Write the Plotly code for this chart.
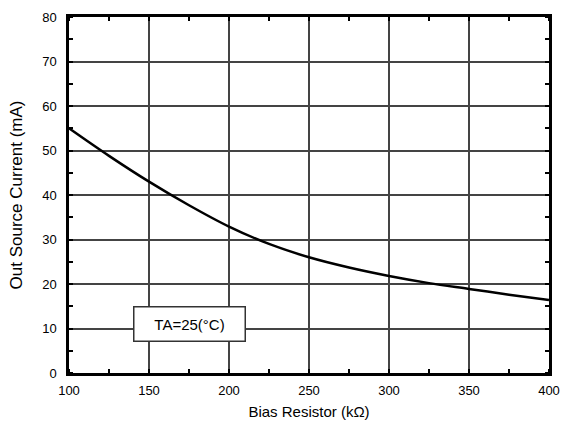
import plotly.graph_objects as go

resistor_kohm = [100, 125, 150, 175, 200, 225, 250, 275, 300, 325, 350, 375, 400]
current_ma = [55.0, 48.8, 43.0, 37.7, 32.9, 29.0, 26.0, 23.7, 21.8, 20.2, 18.9, 17.6, 16.4]

x_ticks = [100, 150, 200, 250, 300, 350, 400]
y_ticks = [0, 10, 20, 30, 40, 50, 60, 70, 80]

fig = go.Figure()
fig.add_trace(go.Scatter(
    x=resistor_kohm, y=current_ma, mode="lines",
    line=dict(color="black", width=2.5, shape="spline", smoothing=1.0),
    showlegend=False, hoverinfo="skip",
))

font = "Liberation Sans, Arial, sans-serif"
axis_common = dict(
    showline=True, linecolor="black", linewidth=2.5, mirror="all",
    showgrid=True, gridcolor="#444444", gridwidth=1.5,
    ticks="", zeroline=False, automargin=False,
    tickfont=dict(family=font, size=13, color="black"),
)

fig.update_xaxes(
    range=[100, 400], tickvals=x_ticks, ticktext=[str(v) for v in x_ticks],
    title=dict(text="Bias Resistor (kΩ)", font=dict(family=font, size=15, color="black"), standoff=10),
    ticklabelstandoff=4,
    minor=dict(ticks="inside", ticklen=4, tickcolor="black", tickwidth=1.5, dtick=25, tick0=100, showgrid=False),
    **axis_common,
)
fig.update_yaxes(
    range=[0, 80], tickvals=y_ticks, ticktext=[str(v) for v in y_ticks],
    title=dict(text="Out Source Current (mA)", font=dict(family=font, size=17, color="black"), standoff=16),
    ticklabelstandoff=7,
    minor=dict(ticks="inside", ticklen=4, tickcolor="black", tickwidth=1.5, dtick=5, tick0=0, showgrid=False),
    **axis_common,
)

fig.add_annotation(
    x=175, y=11, xref="x", yref="y", text="TA=25(°C)", showarrow=False,
    font=dict(family=font, size=15, color="black"),
    bgcolor="white", bordercolor="#333333", borderwidth=1.5, borderpad=8,
    width=94,
)

fig.update_layout(
    width=565, height=423,
    margin=dict(l=69, r=16, t=17, b=50),
    paper_bgcolor="white", plot_bgcolor="white",
)

fig.write_html("out.html", config={"displayModeBar": False},
               post_script="document.body.style.margin='0';")
